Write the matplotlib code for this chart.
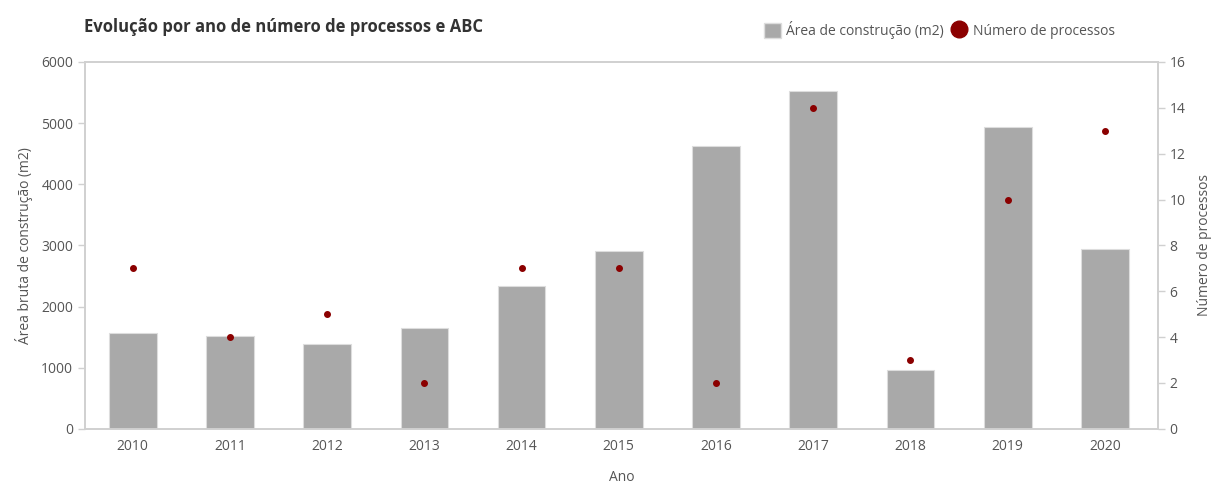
import matplotlib.pyplot as plt
from matplotlib.lines import Line2D
from matplotlib.patches import Patch
import numpy as np

plt.rcParams['font.family'] = ['Open Sans', 'DejaVu Sans']

anos = ['2010', '2011', '2012', '2013', '2014', '2015', '2016', '2017', '2018', '2019', '2020']
area = [1570, 1520, 1390, 1650, 2340, 2910, 4630, 5530, 965, 4940, 2940]
processos = [7, 4, 5, 2, 7, 7, 2, 14, 3, 10, 13]

cinza_txt = '#555555'
cinza_eixo = '#d0d0d0'

fig = plt.figure(figsize=(12.15, 4.84), dpi=100)
ax = fig.add_axes([0.070, 0.114, 0.883, 0.758])
ax2 = ax.twinx()

x = np.arange(len(anos))
ax.bar(x, area, width=0.49, color='#a9a9a9', edgecolor='#dddddd', linewidth=0.8, zorder=2)
ax2.scatter(x, processos, s=16, color='#8b0000', zorder=3)

ax.set_xlim(-0.49, 10.545)
ax.set_ylim(0, 6000)
ax2.set_ylim(0, 16)
ax.set_yticks(range(0, 6001, 1000))
ax2.set_yticks(range(0, 17, 2))
ax.set_xticks(x)
ax.set_xticklabels(anos)

for a in (ax, ax2):
    for s in a.spines.values():
        s.set_color(cinza_eixo)
        s.set_linewidth(1.2)
    a.tick_params(colors=cinza_eixo, labelcolor=cinza_txt, labelsize=10, length=5, width=1)
ax.tick_params(axis='x', length=0, pad=7)

ax.set_xlabel('Ano', color=cinza_txt, fontsize=10, labelpad=12)
ax.set_ylabel('Área bruta de construção (m2)', color=cinza_txt, fontsize=10, labelpad=6)
ax2.set_ylabel('Número de processos', color=cinza_txt, fontsize=10, labelpad=8)

fig.text(0.069, 0.945, 'Evolução por ano de número de processos e ABC',
         fontsize=12, fontweight='bold', color='#333333', va='center')

handles = [
    Patch(facecolor='#a9a9a9', edgecolor='#dddddd', label='Área de construção (m2)'),
    Line2D([], [], marker='o', linestyle='none', markersize=12, color='#8b0000', label='Número de processos'),
]
fig.legend(handles=handles, loc='center right', bbox_to_anchor=(0.928, 0.938), ncol=2,
           frameon=False, fontsize=10, labelcolor=cinza_txt, handlelength=1.2, handleheight=1.3,
           handletextpad=0.4, columnspacing=0.5)

fig.savefig('out.png', dpi=100)
